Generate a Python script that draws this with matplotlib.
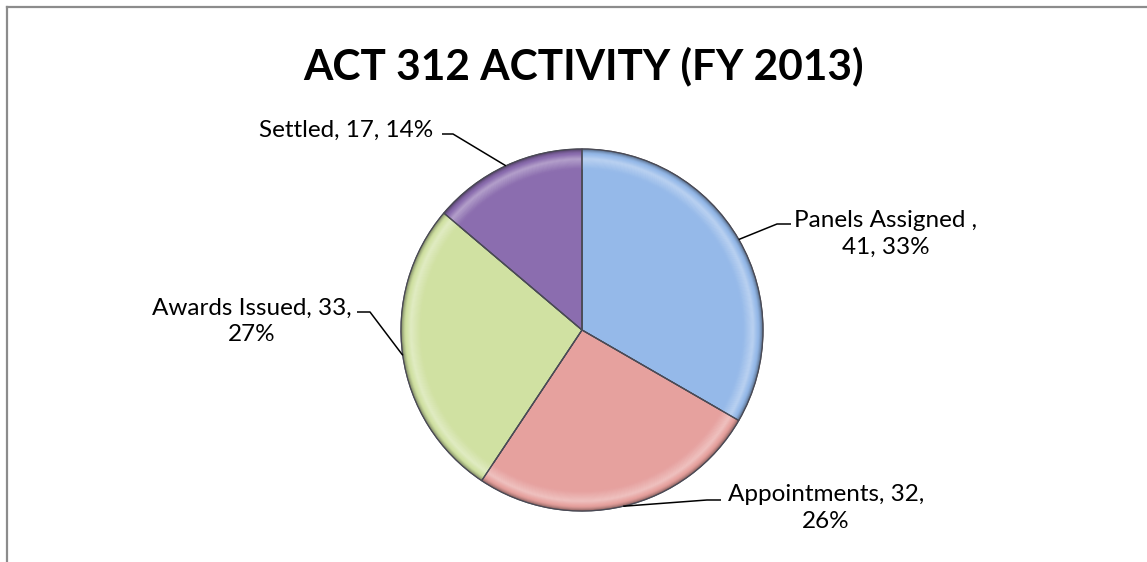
import matplotlib.pyplot as plt
import matplotlib.colors as mc
from matplotlib.lines import Line2D
import numpy as np

#===================================
# dane wykresu
#===================================
kategorie = ["Panels Assigned ", "Appointments", "Awards Issued", "Settled"]
wartosci = [41, 32, 33, 17]
kolory = ["#95B9E9", "#E6A19E", "#D0E1A2", "#8B6DAF"]
tytul = "ACT 312 ACTIVITY (FY 2013)"

# gdzie lamac etykiete: "nazwa" -> po nazwie, "proc" -> przed procentem, None -> bez lamania
lamanie = ["nazwa", "proc", "proc", None]

W, H = 1147, 562
SRODEK = (582, H - 330)
R = 181

# polozenie tekstu etykiet (srodek) oraz kolanko linii (x, y) w pikselach obrazka
tekst_xy = [(886, 234), (826, 508), (252, 321), (346, 130)]
kolanko = [(777, 224), (707, 500), (370, 312), (453, 134)]
koniec = [(791, 224), (721, 500), (357, 312), (442, 134)]

plt.rcParams['font.family'] = ['Lato', 'DejaVu Sans']


#===================================
def zrobEtykiete(k, v, p, tryb):
    if tryb == "nazwa":
        return f"{k},\n{v}, {p}%"
    if tryb == "proc":
        return f"{k}, {v},\n{p}%"
    return f"{k}, {v}, {p}%"


#===================================
def odcien(kolor, t):
    # t<0 przyciemnia, t>0 rozjasnia
    c = np.array(mc.to_rgb(kolor))
    if t < 0:
        return tuple(c * (1 + t))
    return tuple(c + (1 - c) * t)


#===================================
def profil(s):
    # s=0 zewnetrzna krawedz, s=1 wnetrze pierscienia
    if s < 0.25:
        return -0.45 * (1 - s / 0.25) ** 1.5
    if s < 0.5:
        return 0.35 * (s - 0.25) / 0.25
    return 0.35 * (1 - (s - 0.5) / 0.5)


fig = plt.figure(figsize=(W / 100, H / 100), dpi=100)
ax = fig.add_axes([0, 0, 1, 1])

# podstawa kola
ax.pie(wartosci, colors=kolory, startangle=90, counterclock=False,
       radius=R, center=SRODEK, frame=True,
       wedgeprops=dict(edgecolor="#55555f", linewidth=0.8))

# fazowanie przy krawedzi (pierscienie)
grubosc = 0.11 * R
n = 22
for j in range(n):
    s = (j + 0.5) / n
    r_zew = R - j * grubosc / n
    kol = [odcien(c, profil(s)) for c in kolory]
    ax.pie(wartosci, colors=kol, startangle=90, counterclock=False,
           radius=r_zew, center=SRODEK, frame=True,
           wedgeprops=dict(width=grubosc / n + 0.6, linewidth=0))

# linie podzialu na wierzchu
ax.pie(wartosci, colors=["none"] * 4, startangle=90, counterclock=False,
       radius=R, center=SRODEK, frame=True,
       wedgeprops=dict(edgecolor="#4a4a55", linewidth=0.9, fill=False))

ax.set_xlim(0, W)
ax.set_ylim(0, H)
ax.set_aspect('equal')
ax.axis('off')

# etykiety z liniami
suma = sum(wartosci)
kat = 90.0
for i in range(len(wartosci)):
    rozpiecie = wartosci[i] / suma * 360
    srodek_kata = np.deg2rad(kat - rozpiecie / 2)
    kat -= rozpiecie
    px = SRODEK[0] + R * np.cos(srodek_kata)
    py = SRODEK[1] + R * np.sin(srodek_kata)
    proc = int(round(wartosci[i] / suma * 100))
    txt = zrobEtykiete(kategorie[i], wartosci[i], proc, lamanie[i])
    kx, ky = kolanko[i]
    ex, ey = koniec[i]
    ax.plot([px, kx, ex], [py, H - ky, H - ey], color="black", lw=1.1,
            solid_capstyle='butt')
    tx, ty = tekst_xy[i]
    ax.text(tx, H - ty, txt, ha="center", va="center", fontsize=17.5,
            linespacing=1.3, color="black")

fig.text(584 / W, 1 - 66 / H, tytul, ha="center", va="center",
         fontsize=30.5, fontweight="bold")

# ramka (lewa i gorna krawedz)
fig.add_artist(Line2D([7 / W, 7 / W], [0, 1 - 6.5 / H], transform=fig.transFigure,
                      color="#8c8c8c", lw=1.6))
fig.add_artist(Line2D([7 / W, 1], [1 - 6.5 / H, 1 - 6.5 / H], transform=fig.transFigure,
                      color="#8c8c8c", lw=1.6))

fig.savefig("out.png", dpi=100, facecolor="white")
